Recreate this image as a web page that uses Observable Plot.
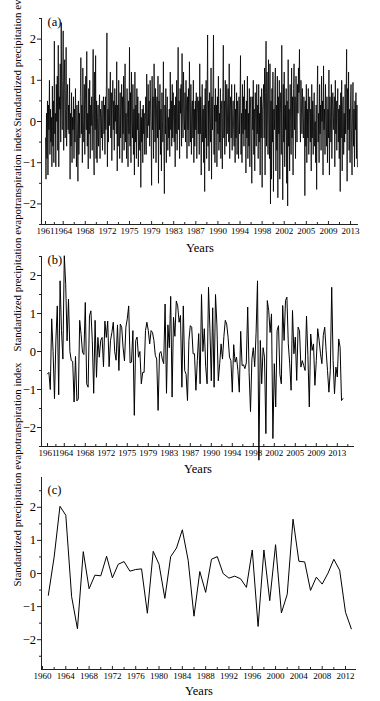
<!DOCTYPE html>
<html><head><meta charset="utf-8">
<script src="https://cdn.jsdelivr.net/npm/d3@7"></script>
<script src="https://cdn.jsdelivr.net/npm/@observablehq/plot@0.6"></script>
<style>
html,body{margin:0;padding:0;background:#fff;}
body{width:380px;height:701px;overflow:hidden;position:relative;font-family:"Liberation Serif",serif;}
.panel{position:absolute;left:0;width:380px;}
.panel svg{display:block;overflow:visible;}
</style></head>
<body>
<div id="pa" class="panel" style="top:0px"></div>
<div id="pb" class="panel" style="top:250px"></div>
<div id="pc" class="panel" style="top:472px"></div>
<script>
// ---------- text ----------
const yTitle = "Standardized precipitation evapotranspiration index";
const xTitle = "Years";
const panelLabels = ["(a)", "(b)", "(c)"];

// ---------- x tick labels ----------
const tickLabelsAB = ["1961","1964","1968","1972","1975","1979","1983","1987","1990","1994","1998","2002","2005","2009","2013"];
const tickYearsAB = [1961, 1964, 1967.75, 1971.5, 1975.25, 1979, 1982.75, 1986.5, 1990.25, 1994, 1997.75, 2001.5, 2005.25, 2009, 2012.75];
const minorYearsAB = [1962.5, 1965.875, 1969.625, 1973.375, 1977.125, 1980.875, 1984.625, 1988.375, 1992.125, 1995.875, 1999.625, 2003.375, 2007.125, 2010.875, 2014.625];
const tickLabelsC = ["1960","1964","1968","1972","1976","1980","1984","1988","1992","1996","2000","2004","2008","2012"];
const tickYearsC = [1960,1964,1968,1972,1976,1980,1984,1988,1992,1996,2000,2004,2008,2012];
const minorYearsC = [1962,1966,1970,1974,1978,1982,1986,1990,1994,1998,2002,2006,2010];
const yTicks = [-2, -1, 0, 1, 2];
const yMinorTicks = [-2.5, -1.5, -0.5, 0.5, 1.5, 2.5];

// ---------- data ----------
const firstYear = 1961;
// (a) monthly SPEI, Jan 1961 - Dec 2013
const monthlySpei = [
-0.4,-1.4,0.2,-0.9,0.5,-1.3,0.4,-0.2,1.0,-0.8,0.3,-0.5,
0.1,-1.1,0.86,-0.6,0.5,-1.0,1.95,-0.3,0.2,-1.1,0.9,0.0,
1.1,-0.7,1.85,-1.1,0.6,0.3,1.4,-0.5,2.4,0.4,-0.2,1.0,
2.2,-0.7,0.8,1.5,-0.4,0.3,1.8,-0.6,0.5,0.9,-0.2,0.4,
-0.3,1.05,-1.4,0.2,-0.6,0.7,-1.0,0.1,-0.2,0.6,-0.9,0.3,
-0.5,0.8,-0.2,-1.1,0.4,-0.3,-1.45,0.5,-0.8,0.2,-0.4,0.6,
1.55,-0.3,0.4,-1.0,1.3,0.0,-0.5,0.9,-0.8,0.3,1.1,-0.2,
1.7,-0.6,0.2,-1.15,0.8,-0.3,1.0,-0.9,0.4,-0.1,0.6,-0.7,
0.3,1.75,-0.5,-1.3,1.2,-0.2,1.6,-0.9,0.5,-1.0,0.1,0.4,
-0.6,0.2,0.65,-0.9,0.3,0.1,-0.4,0.5,-0.7,0.2,0.6,-0.3,
0.4,-0.8,0.6,-0.2,0.9,2.15,-1.1,0.3,-0.5,0.8,-0.1,0.5,
1.2,-0.4,0.7,-0.95,0.3,1.0,-0.2,0.5,-0.7,0.8,0.0,0.4,
-0.3,1.45,-1.2,0.4,-0.6,1.0,0.2,-0.9,0.7,-0.4,0.3,0.9,
-1.0,0.6,-0.3,1.1,-0.7,0.4,1.4,-0.5,0.2,-0.9,0.8,0.1,
-1.1,0.5,-0.3,1.8,-0.6,0.7,-1.0,1.2,0.0,-0.4,0.9,-0.8,
0.3,-1.3,1.2,-0.5,0.4,-0.9,0.8,-0.2,0.6,-1.1,0.2,-0.4,
-0.7,0.5,-1.6,0.1,-0.5,0.3,-1.0,0.4,-0.3,0.2,-0.8,0.0,
0.6,-0.8,1.15,0.2,-0.4,0.9,-0.1,0.5,-0.6,1.0,0.3,-0.3,
-1.55,1.1,-0.2,0.6,-0.9,1.4,0.4,-0.5,0.8,-1.0,0.3,0.6,
-0.4,1.1,-1.5,0.5,-0.2,0.9,-0.8,0.3,-1.2,0.7,0.0,-0.5,
1.45,-0.6,-1.75,0.4,-0.3,0.8,-1.0,0.2,0.6,-0.7,0.1,-0.4,
0.3,-0.85,1.2,-0.2,0.5,-0.6,0.9,-0.4,0.7,0.0,-0.5,0.4,
-1.1,0.6,-0.3,1.0,-0.7,0.4,1.8,-0.2,0.5,-0.9,0.8,0.2,
0.9,-0.6,1.65,0.3,-0.4,1.2,0.1,-0.2,0.7,-0.5,1.0,0.4,
-0.9,0.6,-0.2,0.8,-0.6,1.45,0.2,-0.5,0.9,-0.8,0.3,0.5,
-0.4,1.0,-1.0,0.3,-0.6,0.5,-0.2,0.7,-0.9,0.2,0.6,-0.3,
0.5,-0.8,1.4,-0.3,0.6,-1.3,0.2,0.9,-0.5,0.3,-1.0,0.4,
-1.7,0.8,-0.4,1.0,-0.9,0.3,2.1,-0.6,0.5,-1.2,0.7,0.1,
-0.5,1.3,-1.4,0.6,-0.2,0.9,2.1,-0.8,0.4,-1.0,0.8,0.0,
0.4,-1.1,0.6,-0.3,1.1,-0.7,0.2,-0.5,0.8,-0.9,0.3,0.5,
-1.15,0.7,1.85,-0.4,0.5,-0.8,1.0,0.1,-0.6,0.9,-0.3,0.4,
0.8,-0.5,1.4,-0.9,0.3,0.6,-0.4,0.9,-0.7,0.2,0.5,-0.2,
-0.6,0.9,-1.0,0.3,-0.4,0.7,-0.8,0.5,0.0,-0.9,0.6,-0.3,
0.4,1.6,-0.8,0.2,-1.0,0.9,-0.3,0.6,-0.6,1.0,-0.2,0.3,
-1.25,0.5,-0.4,1.1,-0.9,0.2,-0.6,0.8,-1.1,0.3,0.6,-0.4,
-1.5,0.6,-0.2,1.0,-0.8,0.3,-1.2,0.7,0.0,-0.6,0.9,-0.3,
0.4,-0.9,0.9,-0.5,0.2,-1.3,0.6,-0.4,0.8,-1.6,0.3,0.5,
0.9,-0.4,1.3,-1.3,0.7,1.95,-0.6,1.2,0.3,-0.8,1.5,0.2,
-0.9,1.4,-2.0,0.5,-1.4,0.8,-0.5,1.2,-1.7,0.3,-0.2,0.9,
1.3,-1.2,0.4,-0.7,1.1,-1.85,0.6,-0.3,1.0,-1.4,0.2,0.7,
-0.8,1.85,-0.3,-1.9,0.9,-0.5,1.2,-1.1,0.4,-0.2,0.8,-1.5,
0.5,-2.05,1.5,-0.6,0.3,-1.2,0.9,0.0,-0.8,1.3,-0.4,0.6,
-1.3,0.8,1.4,-0.2,0.6,-0.9,1.1,0.3,-0.5,0.9,0.2,1.3,
0.7,1.75,0.2,-0.5,1.0,0.4,-0.3,0.8,0.1,-0.4,0.6,0.2,
-1.8,0.5,-0.6,0.9,-1.0,0.3,-0.4,0.8,-0.8,0.2,0.6,-0.5,
0.3,-1.2,0.9,-0.4,0.5,-0.8,0.2,0.7,-0.6,0.0,-1.0,0.4,
-1.65,0.6,1.35,-0.5,0.2,-1.0,0.9,-0.3,0.4,-0.7,1.1,0.0,
0.5,-1.3,1.35,-0.2,0.3,-0.8,0.9,0.1,-0.6,0.6,-1.0,0.3,
-0.4,1.25,-1.3,0.6,0.1,-0.5,0.9,-0.9,0.4,0.7,-0.2,0.3,
0.6,-1.1,1.0,-0.3,0.5,-0.7,0.2,0.8,-0.5,0.3,-0.9,0.4,
-1.7,0.7,-0.4,1.0,-1.2,0.3,0.6,-0.8,0.2,-0.5,0.9,-0.3,
0.4,1.75,-1.45,0.8,-0.2,1.2,-0.7,0.3,-1.0,0.5,0.9,-0.4,
-1.3,0.2,0.95,-0.6,0.3,-1.1,0.5,-0.2,0.7,-0.9,0.4,-1.1
];
// (b) seasonal SPEI, 4 values per year, 1961 - 2013
const seasonalSpei = [
-0.59,-0.55,-1.0,0.86,
0.0,-1.24,0.3,1.2,
-1.14,1.86,0.55,-0.2,
2.52,1.77,0.28,1.38,
0.0,-0.24,-0.26,-1.33,
-0.13,-1.3,-1.25,0.82,
0.45,-0.02,-0.08,1.29,
-0.85,-0.94,0.94,1.07,
0.29,-1.1,0.82,-0.68,
0.37,-0.15,0.29,0.37,
-0.4,0.8,0.37,0.8,
-0.4,0.29,0.5,0.77,
0.0,-0.23,0.7,-0.5,
0.72,0.64,0.1,-0.25,
0.64,0.86,1.2,-0.3,
-0.28,0.55,-1.68,0.29,
0.38,-0.15,0.0,-0.85,
-0.55,-0.55,0.55,0.77,
0.55,0.2,0.55,0.5,
0.29,-0.1,-0.2,-1.55,
-0.05,0.0,-0.2,-0.32,
1.25,-1.1,0.7,0.1,
1.45,-1.2,0.9,0.4,
1.33,1.2,0.77,0.95,
-0.94,1.2,-0.5,-0.6,
-1.29,0.29,0.68,0.64,
-0.06,-0.06,-1.02,-0.24,
0.47,-0.85,1.5,0.0,
0.6,-0.4,-0.85,1.69,
0.6,-0.77,1.15,-0.94,
1.5,0.7,-0.77,-0.32,
0.2,-0.2,0.4,0.82,
0.72,0.37,-0.15,-0.24,
-1.07,0.18,-0.28,-0.15,
-0.5,-1.07,0.53,-0.37,
-0.35,-0.45,-0.3,1.17,
-0.55,-1.58,-0.2,0.1,
-0.4,0.5,1.86,-2.86,
0.29,-0.85,0.1,-0.15,
-2.16,1.34,1.08,0.5,
0.99,-2.29,-0.32,-1.46,
0.55,0.68,-0.6,-0.85,
1.21,0.29,1.34,1.43,
0.2,-0.32,-1.02,1.08,
-0.06,0.38,-0.76,0.64,
0.55,-0.41,-0.24,-0.37,
-0.5,0.93,-0.1,-1.46,
0.46,0.03,0.2,-0.89,
-0.24,0.6,0.3,-0.06,
-0.32,0.42,0.64,0.03,
-0.5,-1.07,-0.5,1.69,
-0.24,-1.11,-0.41,-0.67,
0.33,0.11,-1.29,-1.24
];
// (c) annual SPEI, 1961 - 2013
const annualSpei = [
-0.66,0.5,2.03,1.76,-0.7,-1.67,0.66,-0.46,-0.05,-0.07,
0.52,-0.13,0.28,0.36,0.07,0.12,0.14,-1.2,0.67,0.28,
-0.75,0.51,0.77,1.32,0.4,-1.29,0.06,-0.57,0.43,0.51,
0.0,-0.14,-0.08,-0.16,-0.42,0.71,-1.6,0.71,-0.82,0.87,
-1.19,-0.63,1.64,0.37,0.35,-0.51,-0.11,-0.32,0.01,0.43,
0.1,-1.17,-1.67
];

// ---------- drawing ----------
const fontStack = "Liberation Serif, Times New Roman, serif";
const yFormat = d => (d < 0 ? "\u2212" : "") + Math.abs(d);

function panel(cfg) {
  const rows = cfg.values.map((v, i) => ({t: firstYear + i / cfg.perYear, v}));
  const fmt = d => cfg.labels[cfg.ticks.indexOf(d)];
  const svg = Plot.plot({
    width: 380,
    height: cfg.height,
    marginLeft: 41,
    marginRight: cfg.marginRight,
    marginTop: cfg.marginTop,
    marginBottom: cfg.marginBottom,
    style: {fontFamily: fontStack, color: "#000", background: "transparent", overflow: "visible"},
    x: {type: "linear", domain: cfg.xDomain},
    y: {type: "linear", domain: cfg.yDomain},
    marks: [
      Plot.axisY({ticks: yTicks, tickFormat: yFormat, tickSize: 4, tickPadding: 1.5, fontSize: 12.5, label: null, stroke: "#222"}),
      Plot.axisY({ticks: yMinorTicks.filter(d => d >= cfg.yDomain[0] && d <= cfg.yDomain[1]), tickSize: 2, tickFormat: () => "", label: null, stroke: "#222"}),
      Plot.axisX({ticks: cfg.ticks, tickFormat: fmt, tickSize: -3, tickPadding: 6, fontSize: 9, label: null, stroke: "#222"}),
      Plot.axisX({ticks: cfg.minor.filter(d => d >= cfg.xDomain[0] && d <= cfg.xDomain[1]), tickSize: -2, tickFormat: () => "", label: null, stroke: "#222"}),
      Plot.ruleX([cfg.xDomain[0]], {stroke: "#222", strokeWidth: 1}),
      Plot.ruleY([cfg.yDomain[0]], {stroke: "#222", strokeWidth: 1}),
      Plot.line(rows, {x: "t", y: "v", stroke: "#000", strokeWidth: cfg.strokeWidth}),
      Plot.text([cfg.panelLabel], {text: d => d, frameAnchor: "top-left", textAnchor: "start", lineAnchor: "middle", dx: 6, dy: cfg.labelDy, fontSize: 12.5}),
      Plot.text([xTitle], {text: d => d, frameAnchor: "bottom", lineAnchor: "middle", dy: cfg.xTitleDy, fontSize: 12.5}),
      Plot.text([yTitle], {text: d => d, frameAnchor: "left", rotate: -90, lineAnchor: "middle", dx: -24, dy: cfg.yTitleDy, fontSize: 10.8})
    ]
  });
  // keep the long rotated title to the length it has in the figure
  d3.select(svg).selectAll("text").filter(function() { return this.textContent === yTitle; })
    .attr("textLength", 224).attr("lengthAdjust", "spacingAndGlyphs");
  return svg;
}

document.getElementById("pa").append(panel({
  values: monthlySpei, perYear: 12, panelLabel: panelLabels[0],
  ticks: tickYearsAB, labels: tickLabelsAB, minor: minorYearsAB,
  xDomain: [1960.32, 2014.1], yDomain: [-2.5, 2.5],
  height: 250, marginTop: 18, marginBottom: 26, marginRight: 22,
  labelDy: 3, xTitleDy: 23, yTitleDy: 5, strokeWidth: 0.8
}));
document.getElementById("pb").append(panel({
  values: seasonalSpei, perYear: 4, panelLabel: panelLabels[1],
  ticks: tickYearsAB, labels: tickLabelsAB, minor: minorYearsAB,
  xDomain: [1959.93, 2015.82], yDomain: [-2.5, 2.5],
  height: 222, marginTop: 6, marginBottom: 26, marginRight: 26,
  labelDy: 3, xTitleDy: 22, yTitleDy: 0, strokeWidth: 1
}));
document.getElementById("pc").append(panel({
  values: annualSpei, perYear: 1, panelLabel: panelLabels[2],
  ticks: tickYearsC, labels: tickLabelsC, minor: minorYearsC,
  xDomain: [1959.83, 2013.89], yDomain: [-2.9, 2.9],
  height: 229, marginTop: 5, marginBottom: 32, marginRight: 24,
  labelDy: 12, xTitleDy: 21, yTitleDy: 13, strokeWidth: 1
}));
</script>
</body></html>
